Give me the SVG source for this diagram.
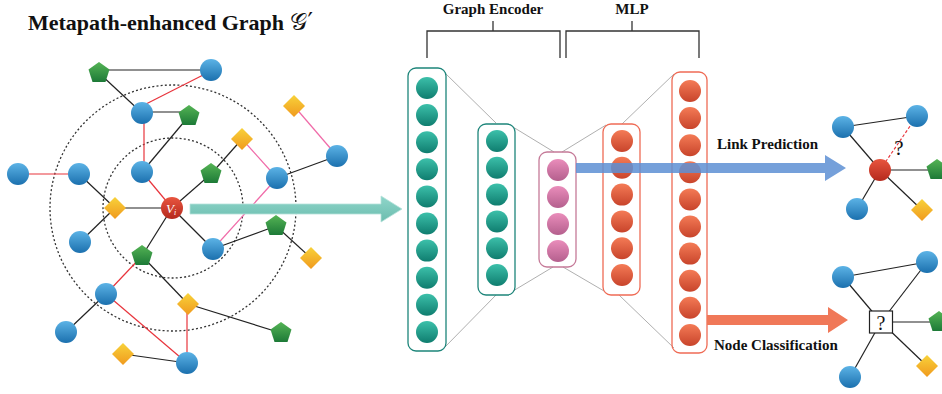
<svg xmlns="http://www.w3.org/2000/svg" xmlns:xlink="http://www.w3.org/1999/xlink" width="942" height="394" viewBox="0 0 942 394">
<style>
.t{font-family:"Liberation Serif","Times New Roman",serif;font-weight:bold;fill:#111}
.e{stroke:#222;stroke-width:1.2;fill:none}
.r{stroke:#e8343c;stroke-width:1.2;fill:none}
.p{stroke:#f06aa8;stroke-width:1.2;fill:none}
.g{stroke:#9a9a9a;stroke-width:0.8;fill:none}
.br{stroke:#333;stroke-width:1.3;fill:none}
.ring{stroke:#333;stroke-width:1.3;fill:none;stroke-dasharray:2 2.2}
.bl{fill:url(#gB)}
.gr{fill:url(#gG)}
.ye{fill:url(#gY)}
.tc{fill:url(#gT)}
.pc{fill:url(#gP)}
.oc{fill:url(#gO)}
.bt{fill:none;stroke:#1d857a;stroke-width:1.3}
.bp{fill:none;stroke:#c57a98;stroke-width:1.3}
.bo{fill:none;stroke:#ef6b55;stroke-width:1.3}
</style>
<defs>
<linearGradient id="gB" x1="0" y1="0" x2="0" y2="1"><stop offset="0" stop-color="#5cb3e6"/><stop offset="1" stop-color="#1b70ae"/></linearGradient>
<linearGradient id="gG" x1="0" y1="0" x2="0" y2="1"><stop offset="0" stop-color="#55b455"/><stop offset="1" stop-color="#1d7a37"/></linearGradient>
<linearGradient id="gY" x1="0" y1="0" x2="0" y2="1"><stop offset="0" stop-color="#f8d23a"/><stop offset="1" stop-color="#f09a1e"/></linearGradient>
<linearGradient id="gR" x1="0" y1="0" x2="0" y2="1"><stop offset="0" stop-color="#e8553f"/><stop offset="1" stop-color="#b5291d"/></linearGradient>
<linearGradient id="gT" x1="0" y1="0" x2="0" y2="1"><stop offset="0" stop-color="#3cc0aa"/><stop offset="1" stop-color="#0f7d6f"/></linearGradient>
<linearGradient id="gP" x1="0" y1="0" x2="0" y2="1"><stop offset="0" stop-color="#ea8dbb"/><stop offset="1" stop-color="#b45f8d"/></linearGradient>
<linearGradient id="gO" x1="0" y1="0" x2="0" y2="1"><stop offset="0" stop-color="#f47b56"/><stop offset="1" stop-color="#c8442b"/></linearGradient>
<linearGradient id="gA" x1="0" y1="0" x2="0" y2="1"><stop offset="0" stop-color="#8fd6ca"/><stop offset="1" stop-color="#6bbcae"/></linearGradient>
<path id="pent" d="M0,-11 L10.5,-3.4 L6.5,8.9 L-6.5,8.9 L-10.5,-3.4Z"/>
<path id="dia" d="M0,-11 L11,0 L0,11 L-11,0Z"/>
</defs>

<text class="t" x="28" y="30" font-size="22">Metapath-enhanced Graph <tspan font-family="'DejaVu Serif',serif" font-weight="normal" font-size="24">𝒢</tspan><tspan font-family="'DejaVu Sans',sans-serif" font-weight="normal" font-size="24" dx="1">′</tspan></text>

<!-- dotted neighbourhood rings -->
<circle class="ring" cx="173" cy="208" r="70"/>
<circle class="ring" cx="173" cy="208" r="123"/>

<g id="connectors">
  <!-- left graph -->
  <line class="e" x1="99" y1="70" x2="211" y2="70"/>
  <line class="e" x1="99" y1="73" x2="142" y2="113"/>
  <line class="r" x1="146" y1="104" x2="211" y2="71"/>
  <line class="e" x1="142" y1="112" x2="189" y2="112"/>
  <line class="r" x1="144" y1="113" x2="144" y2="172"/>
  <line class="e" x1="142" y1="172" x2="189" y2="116"/>
  <line class="r" x1="142" y1="172" x2="172" y2="208"/>
  <line class="r" x1="18" y1="174" x2="79" y2="174"/>
  <line class="e" x1="79" y1="174" x2="115" y2="208"/>
  <line class="e" x1="115" y1="208" x2="172" y2="208"/>
  <line class="e" x1="115" y1="208" x2="80" y2="242"/>
  <line class="e" x1="172" y1="208" x2="211" y2="174"/>
  <line class="e" x1="211" y1="174" x2="242" y2="139"/>
  <line class="p" x1="242" y1="139" x2="277" y2="178"/>
  <line class="e" x1="277" y1="178" x2="337" y2="156"/>
  <line class="p" x1="337" y1="156" x2="294" y2="106"/>
  <line class="p" x1="277" y1="178" x2="213" y2="249"/>
  <line class="e" x1="172" y1="208" x2="213" y2="249"/>
  <line class="e" x1="213" y1="249" x2="276" y2="226"/>
  <line class="e" x1="276" y1="226" x2="311" y2="258"/>
  <line class="e" x1="172" y1="208" x2="142" y2="256"/>
  <line class="r" x1="142" y1="256" x2="106" y2="294"/>
  <line class="e" x1="142" y1="256" x2="188" y2="304"/>
  <line class="e" x1="106" y1="294" x2="66" y2="332"/>
  <line class="r" x1="106" y1="294" x2="187" y2="363"/>
  <line class="r" x1="187" y1="304" x2="187" y2="363"/>
  <line class="e" x1="188" y1="304" x2="281" y2="333"/>
  <line class="e" x1="123" y1="354" x2="187" y2="363"/>
  <!-- network funnel lines -->
  <line class="g" x1="445" y1="73" x2="496" y2="123"/>
  <line class="g" x1="513" y1="127" x2="554" y2="152"/>
  <line class="g" x1="562" y1="152" x2="606" y2="125"/>
  <line class="g" x1="622" y1="124" x2="674" y2="74"/>
  <line class="g" x1="445" y1="347" x2="496" y2="295"/>
  <line class="g" x1="513" y1="291" x2="553" y2="267"/>
  <line class="g" x1="563" y1="267" x2="604" y2="291"/>
  <line class="g" x1="619" y1="295" x2="674" y2="348"/>
  <!-- brackets -->
  <polyline class="br" points="427,58 427,31 560,31 560,58"/>
  <line class="br" x1="493" y1="21" x2="493" y2="31"/>
  <polyline class="br" points="566,58 566,31 699,31 699,58"/>
  <line class="br" x1="632" y1="21" x2="632" y2="31"/>
  <!-- right graph 1 -->
  <line class="e" x1="843" y1="127" x2="917" y2="116"/>
  <line class="e" x1="843" y1="127" x2="880" y2="170"/>
  <line class="e" x1="880" y1="170" x2="937" y2="170"/>
  <line class="e" x1="880" y1="170" x2="857" y2="209"/>
  <line class="e" x1="880" y1="170" x2="922" y2="210"/>
  <line x1="880" y1="170" x2="917" y2="116" stroke="#e8343c" stroke-width="1.2" stroke-dasharray="3 2"/>
  <!-- right graph 2 -->
  <line class="e" x1="843" y1="277" x2="927" y2="262"/>
  <line class="e" x1="843" y1="277" x2="881" y2="322"/>
  <line class="e" x1="927" y1="262" x2="881" y2="322"/>
  <line class="e" x1="881" y1="322" x2="938" y2="322"/>
  <line class="e" x1="881" y1="322" x2="850" y2="377"/>
  <line class="e" x1="881" y1="322" x2="927" y2="366"/>
</g>

<!-- left graph nodes -->
<g id="n1"><use href="#pent" x="99" y="73" class="gr"/></g>
<g id="n2"><circle class="bl" cx="211" cy="70" r="11"/></g>
<g id="n3"><circle class="bl" cx="142" cy="113" r="11"/></g>
<g id="n4"><use href="#pent" x="189" y="116" class="gr"/></g>
<g id="n5"><use href="#dia" x="294" y="106" class="ye"/></g>
<g id="n6"><use href="#dia" x="242" y="139" class="ye"/></g>
<g id="n7"><circle class="bl" cx="337" cy="156" r="11"/></g>
<g id="n8"><circle class="bl" cx="142" cy="172" r="11"/></g>
<g id="n9"><circle class="bl" cx="18" cy="174" r="11"/></g>
<g id="n10"><circle class="bl" cx="79" cy="174" r="11"/></g>
<g id="n11"><use href="#pent" x="211" y="174" class="gr"/></g>
<g id="n12"><circle class="bl" cx="277" cy="178" r="11"/></g>
<g id="n13"><use href="#dia" x="115" y="208" class="ye"/></g>
<g id="vi"><circle cx="172" cy="208" r="11" fill="url(#gR)"/><text x="166" y="213" font-family="'Liberation Serif',serif" font-style="italic" font-size="13" fill="#fff">V<tspan font-size="8" dy="2">i</tspan></text></g>
<g id="n14"><circle class="bl" cx="80" cy="242" r="11"/></g>
<g id="n15"><use href="#pent" x="276" y="226" class="gr"/></g>
<g id="n16"><circle class="bl" cx="213" cy="249" r="11"/></g>
<g id="n17"><use href="#pent" x="142" y="256" class="gr"/></g>
<g id="n18"><use href="#dia" x="311" y="258" class="ye"/></g>
<g id="n19"><circle class="bl" cx="106" cy="294" r="11"/></g>
<g id="n20"><use href="#dia" x="188" y="304" class="ye"/></g>
<g id="n21"><circle class="bl" cx="66" cy="332" r="11"/></g>
<g id="n22"><use href="#pent" x="281" y="333" class="gr"/></g>
<g id="n23"><use href="#dia" x="123" y="354" class="ye"/></g>
<g id="n24"><circle class="bl" cx="187" cy="363" r="11"/></g>

<!-- teal input arrow -->
<g id="arrow-in"><path d="M190,204 H381 V196 L402,209 L381,222 V214 H190Z" fill="url(#gA)" stroke="#b5e2da" stroke-width="0.8"/></g>

<!-- encoder layer 1 -->
<g id="enc1">
<rect class="bt" x="408" y="68" width="38" height="283" rx="8"/>
<circle class="tc" cx="427" cy="88" r="11"/><circle class="tc" cx="427" cy="115.1" r="11"/><circle class="tc" cx="427" cy="142.2" r="11"/><circle class="tc" cx="427" cy="169.3" r="11"/><circle class="tc" cx="427" cy="196.4" r="11"/><circle class="tc" cx="427" cy="223.5" r="11"/><circle class="tc" cx="427" cy="250.6" r="11"/><circle class="tc" cx="427" cy="277.7" r="11"/><circle class="tc" cx="427" cy="304.8" r="11"/><circle class="tc" cx="427" cy="332" r="11"/>
</g>
<g id="enc2">
<rect class="bt" x="478" y="124" width="37" height="171" rx="8"/>
<circle class="tc" cx="497" cy="141" r="11"/><circle class="tc" cx="497" cy="167.8" r="11"/><circle class="tc" cx="497" cy="194.6" r="11"/><circle class="tc" cx="497" cy="221.4" r="11"/><circle class="tc" cx="497" cy="248.2" r="11"/><circle class="tc" cx="497" cy="275" r="11"/>
</g>
<g id="latent">
<rect class="bp" x="539" y="152" width="37" height="115" rx="8"/>
<circle class="pc" cx="558" cy="170" r="11"/><circle class="pc" cx="558" cy="197" r="11"/><circle class="pc" cx="558" cy="224" r="11"/><circle class="pc" cx="558" cy="251" r="11"/>
</g>
<g id="mlp1">
<rect class="bo" x="603" y="124" width="37" height="171" rx="8"/>
<circle class="oc" cx="622" cy="141" r="11"/><circle class="oc" cx="622" cy="167.8" r="11"/><circle class="oc" cx="622" cy="194.6" r="11"/><circle class="oc" cx="622" cy="221.4" r="11"/><circle class="oc" cx="622" cy="248.2" r="11"/><circle class="oc" cx="622" cy="275" r="11"/>
</g>
<g id="mlp2">
<rect class="bo" x="672" y="72" width="35" height="281" rx="8"/>
<circle class="oc" cx="690" cy="91" r="11"/><circle class="oc" cx="690" cy="118.1" r="11"/><circle class="oc" cx="690" cy="145.2" r="11"/><circle class="oc" cx="690" cy="172.3" r="11"/><circle class="oc" cx="690" cy="199.4" r="11"/><circle class="oc" cx="690" cy="226.5" r="11"/><circle class="oc" cx="690" cy="253.6" r="11"/><circle class="oc" cx="690" cy="280.7" r="11"/><circle class="oc" cx="690" cy="307.8" r="11"/><circle class="oc" cx="690" cy="335" r="11"/>
</g>

<text class="t" x="493" y="14" font-size="15" text-anchor="middle">Graph Encoder</text>
<text class="t" x="632" y="14" font-size="15" text-anchor="middle">MLP</text>

<!-- output arrows -->
<g id="arrow-link"><path d="M576,163 H825 V155 L846,168 L825,181 V173 H576Z" fill="#5d8fd3" fill-opacity="0.85"/></g>
<g id="arrow-node"><path d="M707,315 H828 V307 L848,320 L828,333 V325 H707Z" fill="#f07858"/></g>
<text class="t" x="717" y="149" font-size="15">Link Prediction</text>
<text class="t" x="714" y="350" font-size="15">Node Classification</text>

<!-- right graph 1 -->
<g id="lp-a"><circle class="bl" cx="843" cy="127" r="11"/></g>
<g id="lp-b"><circle class="bl" cx="917" cy="116" r="11"/></g>
<g id="lp-c"><circle cx="880" cy="170" r="11" fill="url(#gR)"/></g>
<g id="lp-d"><use href="#pent" x="937" y="170" class="gr"/></g>
<g id="lp-e"><circle class="bl" cx="857" cy="209" r="11"/></g>
<g id="lp-f"><use href="#dia" x="922" y="210" class="ye"/></g>
<text x="899" y="155" font-family="'Liberation Serif',serif" font-size="21" text-anchor="middle" fill="#111">?</text>

<!-- right graph 2 -->
<g id="nc-a"><circle class="bl" cx="843" cy="277" r="11"/></g>
<g id="nc-b"><circle class="bl" cx="927" cy="262" r="11"/></g>
<g id="nc-q"><rect x="869.5" y="311" width="23" height="22" fill="#fff" stroke="#222" stroke-width="1.2"/><text x="881" y="330" font-family="'Liberation Serif',serif" font-size="20" text-anchor="middle" fill="#111">?</text></g>
<g id="nc-d"><use href="#pent" x="939" y="322" class="gr"/></g>
<g id="nc-e"><circle class="bl" cx="850" cy="377" r="11"/></g>
<g id="nc-f"><use href="#dia" x="927" y="366" class="ye"/></g>
</svg>
